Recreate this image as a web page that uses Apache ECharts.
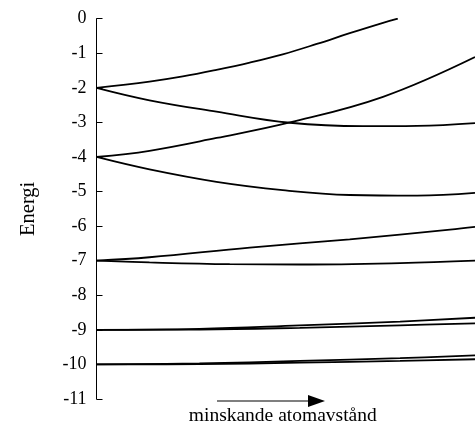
<!DOCTYPE html>
<html>
<head>
<meta charset="utf-8">
<script src="https://cdn.jsdelivr.net/npm/echarts@6/dist/echarts.min.js"></script>
<style>html,body{margin:0;padding:0;background:#fff;}#c{width:475px;height:431px;}</style>
</head>
<body>
<div id="c"></div>
<script>
// x: relative position (0 = large atomic distance, 100 = small)
var xA = [0, 14, 22.8, 31.7, 40.5, 49.2, 58.2, 66.9, 75.7, 79.6];
var yA = [-2, -1.82, -1.67, -1.48, -1.27, -1.03, -0.73, -0.42, -0.12, 0];
var xB = [0, 14, 31.7, 51.1, 70.4, 84.7, 100];
var yB = [-2, -2.36, -2.69, -3.01, -3.11, -3.10, -3.02];
var xC = [0, 14, 31.7, 51.1, 75.7, 100];
var yC = [-4, -3.82, -3.45, -3.0, -2.26, -1.11];
var xD = [0, 14, 31.7, 49.2, 66.9, 84.7, 100];
var yD = [-4, -4.36, -4.72, -4.96, -5.10, -5.12, -5.04];
var xE = [0, 14, 40.5, 66.9, 93.4, 100];
var yE = [-7, -6.9, -6.62, -6.38, -6.10, -6.02];
var xF = [0, 14, 35.2, 53.7, 80.2, 100];
var yF = [-7, -7.05, -7.1, -7.11, -7.07, -7.0];
var xLow = [0, 27.2, 53.7, 80.2, 100];
var y9a = [-9, -8.97, -8.87, -8.76, -8.65];
var y9b = [-9, -8.99, -8.94, -8.87, -8.81];
var y10a = [-10, -9.97, -9.9, -9.82, -9.74];
var y10b = [-10, -9.99, -9.95, -9.9, -9.85];
var yTicks = [0, -1, -2, -3, -4, -5, -6, -7, -8, -9, -10, -11];
var yTitle = 'Energi';
var xTitle = 'minskande atomavstånd';

function pairs(xs, ys) { return xs.map(function (x, i) { return [x, ys[i]]; }); }
var curves = [[xA, yA], [xB, yB], [xC, yC], [xD, yD], [xE, yE], [xF, yF],
  [xLow, y9a], [xLow, y9b], [xLow, y10a], [xLow, y10b]];

var FONT = 'Liberation Serif';
var chart = echarts.init(document.getElementById('c'));
chart.setOption({
  animation: false,
  backgroundColor: '#fff',
  grid: { left: 96.5, right: 0, top: 18.7, bottom: 25.3, containLabel: false },
  xAxis: {
    type: 'value', min: 0, max: 100,
    axisLine: { show: false }, axisTick: { show: false }, axisLabel: { show: false }, splitLine: { show: false },
    name: xTitle, nameLocation: 'middle', nameGap: 7,
    nameTextStyle: { fontFamily: FONT, fontSize: 19.5, color: '#000', padding: [0, 6, 0, 0] }
  },
  yAxis: {
    type: 'value', min: -11, max: 0, interval: 1,
    axisLine: { show: true, lineStyle: { color: '#000', width: 1 } },
    axisTick: { show: true, inside: true, length: 6, lineStyle: { color: '#000' } },
    axisLabel: { fontFamily: FONT, fontSize: 18, color: '#000', margin: 10,
      formatter: function (v) { return yTicks.indexOf(v) >= 0 ? String(v) : ''; } },
    splitLine: { show: false },
    name: yTitle, nameLocation: 'middle', nameGap: 57, nameRotate: 90,
    nameTextStyle: { fontFamily: FONT, fontSize: 20.5, color: '#000' }
  },
  graphic: [
    { type: 'line', shape: { x1: 217, y1: 401, x2: 312, y2: 401 }, style: { stroke: '#000', lineWidth: 1.2 } },
    { type: 'polygon', shape: { points: [[308, 395], [325, 401], [308, 407]] }, style: { fill: '#000' } }
  ],
  series: curves.map(function (c) {
    return { type: 'line', data: pairs(c[0], c[1]), smooth: 0.4, symbol: 'none',
      lineStyle: { color: '#000', width: 1.8 } };
  })
});
</script>
</body>
</html>
